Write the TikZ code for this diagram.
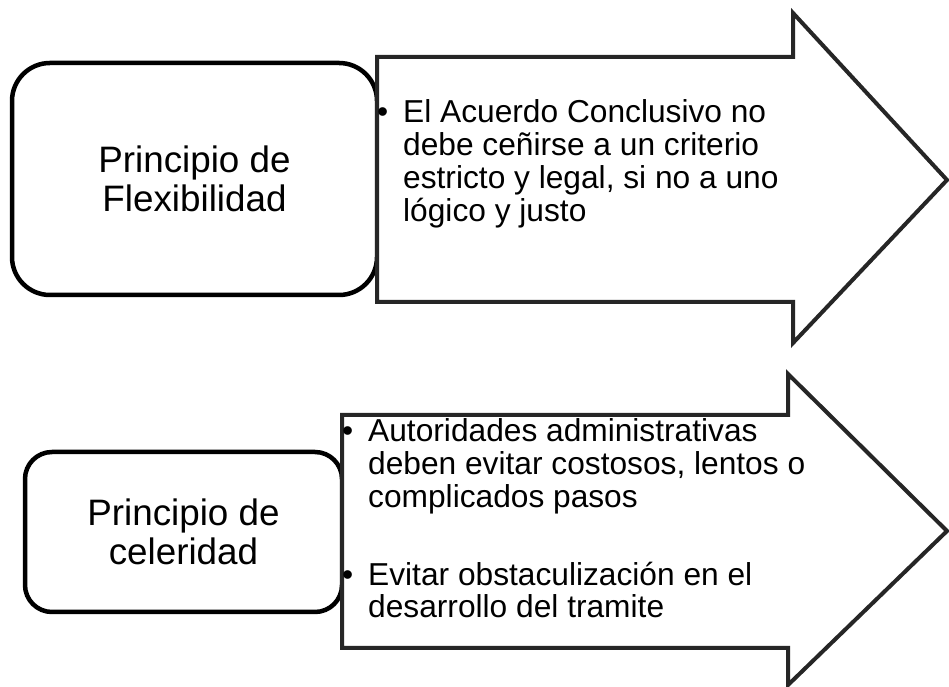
\documentclass[tikz,border=0pt]{standalone}
\usepackage{fontspec}
\setmainfont{Liberation Sans}

\newcommand{\vin}{\makebox[26pt][l]{\textbullet}}

\begin{document}
\begin{tikzpicture}[
    x = 1pt, y = 1pt,
    caja/.style = {rectangle, draw, line width=4.5pt, fill=white, align=center,
                   font=\fontsize{36.8}{39}\selectfont},
    flecha/.style = {draw=black!85, line width=4pt, fill=white, line join=miter},
    vinieta/.style = {anchor=base west, inner sep=0pt,
                      font=\fontsize{31.7}{32.5}\selectfont}
    ]
  \useasboundingbox (0,0) rectangle (949,687);

  \node[caja, minimum width=365pt, minimum height=232pt, rounded corners=38pt] (flex) at (194.5,508) {Principio de\\Flexibilidad} ;
  \node[caja, minimum width=317pt, minimum height=160pt, rounded corners=27pt] (celer) at (183.5,155) {Principio de\\celeridad} ;

  \draw[flecha] (377,630) -- (793,630) -- (793,674) -- (947,507) -- (793,344) -- (793,385) -- (377,385) -- cycle;
  \draw[flecha] (342,272) -- (788,272) -- (788,313) -- (947,156) -- (788,2) -- (788,39) -- (342,39) -- cycle;

  \node[vinieta] (acuerdo) at (377,564) {%
    \begin{tabular}[t]{@{}l@{}l@{}}
      \vin & El Acuerdo Conclusivo no\\
           & debe ceñirse a un criterio\\
           & estricto y legal, si no a uno\\
           & lógico y justo
    \end{tabular}} ;
  \node[vinieta] (pasos) at (342,245) {%
    \begin{tabular}[t]{@{}l@{}l@{}}
      \vin & Autoridades administrativas\\
           & deben evitar costosos, lentos o\\
           & complicados pasos\\[44.5pt]
      \vin & Evitar obstaculización en el\\
           & desarrollo del tramite
    \end{tabular}} ;
\end{tikzpicture}
\end{document}
